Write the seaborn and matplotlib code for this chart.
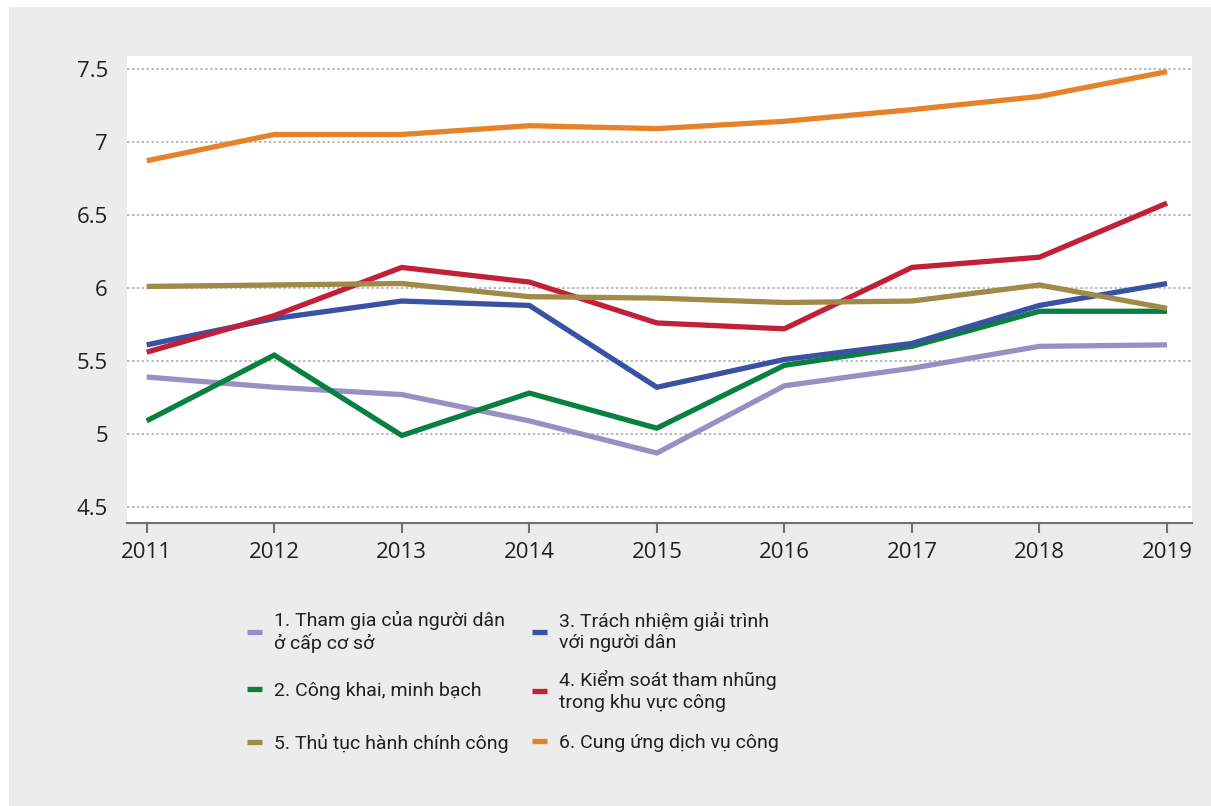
import pandas as pd
import seaborn as sns
import matplotlib.pyplot as plt
from matplotlib.patches import Rectangle

# Values
years = [2011, 2012, 2013, 2014, 2015, 2016, 2017, 2018, 2019]
tham_gia = [5.39, 5.32, 5.27, 5.09, 4.87, 5.33, 5.45, 5.60, 5.61]
cong_khai = [5.09, 5.54, 4.99, 5.28, 5.04, 5.47, 5.60, 5.84, 5.84]
trach_nhiem = [5.61, 5.79, 5.91, 5.88, 5.32, 5.51, 5.62, 5.88, 6.03]
kiem_soat = [5.56, 5.81, 6.14, 6.04, 5.76, 5.72, 6.14, 6.21, 6.58]
thu_tuc = [6.01, 6.02, 6.03, 5.94, 5.93, 5.90, 5.91, 6.02, 5.86]
dich_vu = [6.87, 7.05, 7.05, 7.11, 7.09, 7.14, 7.22, 7.31, 7.48]

labels = [
    "1. Tham gia của người dân\nở cấp cơ sở",
    "2. Công khai, minh bạch",
    "3. Trách nhiệm giải trình\nvới người dân",
    "4. Kiểm soát tham nhũng\ntrong khu vực công",
    "5. Thủ tục hành chính công",
    "6. Cung ứng dịch vụ công",
]
colors = ["#9a8fc5", "#08803f", "#3952a4", "#c21f39", "#a08a48", "#e5822a"]
series = [tham_gia, cong_khai, trach_nhiem, kiem_soat, thu_tuc, dich_vu]

sns.set_style("white")
plt.rcParams["font.family"] = ["Open Sans", "DejaVu Sans"]

W, H = 1211, 806
fig = plt.figure(figsize=(W / 100, H / 100), dpi=100)
fig.patch.set_facecolor("white")
fig.add_artist(Rectangle((9 / W, 0), 1 - 9 / W, 1 - 7 / H, transform=fig.transFigure,
                         facecolor="#ececec", edgecolor="none", zorder=-10))

ax = fig.add_axes([127.3 / W, 1 - 522.7 / H, (1192 - 127.3) / W, (522.7 - 56) / H])
ax.set_facecolor("white")

handles = []
for vals, c, lab in zip(series, colors, labels):
    sns.lineplot(x=years, y=vals, color=c, linewidth=3.8, ax=ax, legend=False,
                 solid_capstyle="butt", solid_joinstyle="miter")
    ax.lines[-1].set_label(lab)
    handles.append(ax.lines[-1])

ax.set_xlim(2010.848, 2019.196)
ax.set_ylim(4.393, 7.587)
ax.set_xticks(years)
ax.set_yticks([4.5, 5, 5.5, 6, 6.5, 7, 7.5])
ax.set_yticklabels(["4.5", "5", "5.5", "6", "6.5", "7", "7.5"])
ax.set_xlabel("")
ax.set_ylabel("")

ax.yaxis.grid(True, color="#a8a8a8", linestyle=(0, (1.6, 1.6)), linewidth=1.1)
ax.xaxis.grid(False)
ax.set_axisbelow(True)
for s in ["left", "top", "right"]:
    ax.spines[s].set_visible(False)
ax.spines["bottom"].set_color("#707070")
ax.spines["bottom"].set_linewidth(1.5)

ax.tick_params(axis="y", length=0, pad=14, labelsize=16, labelcolor="#231f20")
ax.tick_params(axis="x", direction="out", length=7, width=1.5, color="#707070",
               pad=7, labelsize=16, labelcolor="#231f20", bottom=True)

# Legend: one entry per slot so the two columns stay aligned row by row
pos_x = [247, 247, 532, 532, 247, 532]
pos_y = [632, 691, 632, 691, 743, 743]
for h, lab, px, py in zip(handles, labels, pos_x, pos_y):
    leg = fig.legend(handles=[h], labels=[lab], loc="center left",
                     bbox_to_anchor=(px / W, 1 - py / H), bbox_transform=fig.transFigure,
                     frameon=False, borderpad=0, borderaxespad=0, handlelength=0.75,
                     handletextpad=0.65,
                     prop={"family": ["Roboto", "DejaVu Sans"], "size": 14})
    for t in leg.get_texts():
        t.set_color("#231f20")
        t.set_linespacing(1.25)

fig.savefig("out.png", dpi=100)
